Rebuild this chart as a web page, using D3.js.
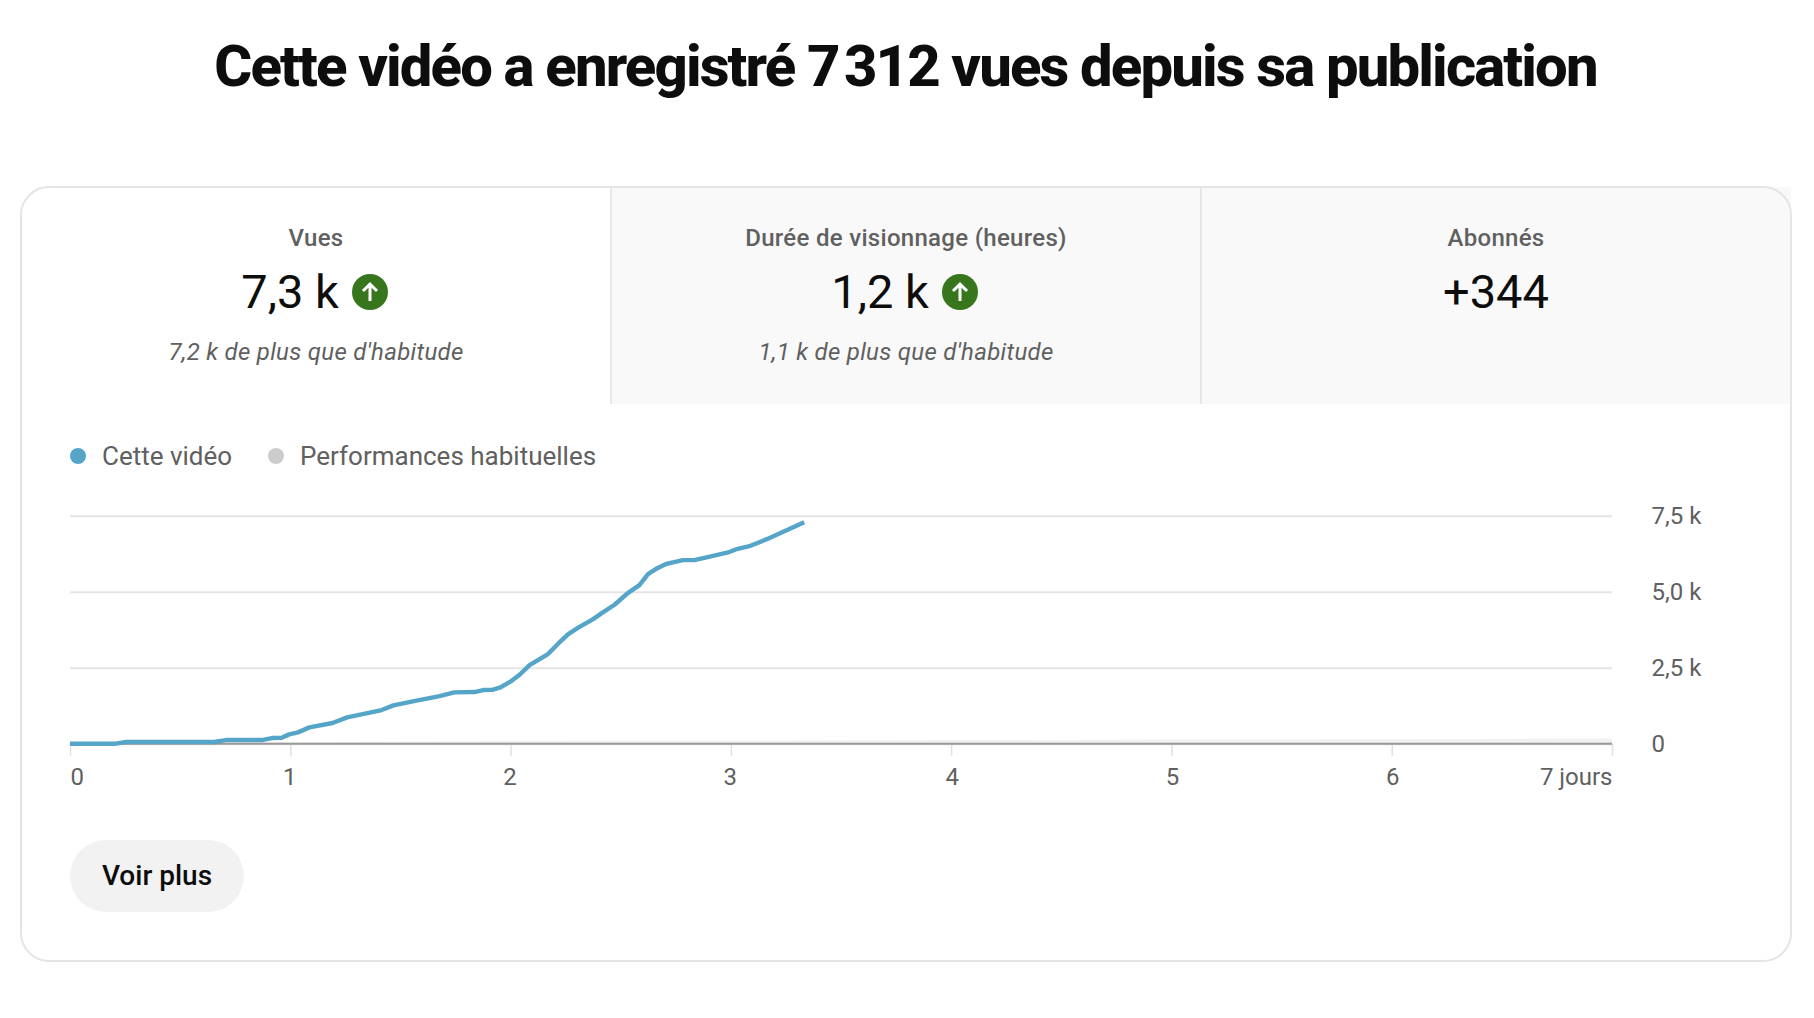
<!DOCTYPE html>
<html>
<head>
<meta charset="utf-8">
<script src="https://cdn.jsdelivr.net/npm/d3@7"></script>
<style>
  html, body { margin: 0; padding: 0; background: #fff; }
  svg { display: block; }
  text { font-family: Roboto, sans-serif; }
</style>
</head>
<body>
<div id="chart"></div>
<script>
// Data
var titleText = "Cette vidéo a enregistré 7\u202F312 vues depuis sa publication";
var tabLabels = ["Vues", "Durée de visionnage (heures)", "Abonnés"];
var tabValues = ["7,3 k", "1,2 k", "+344"];
var tabNotes = ["7,2 k de plus que d'habitude", "1,1 k de plus que d'habitude", ""];
var tabArrows = [true, true, false];
var legendLabels = ["Cette vidéo", "Performances habituelles"];
var dayTicks = [0, 1, 2, 3, 4, 5, 6, 7];
var dayLabels = ["0", "1", "2", "3", "4", "5", "6", "7 jours"];
var viewTicks = [0, 2500, 5000, 7500];
var viewLabels = ["0", "2,5 k", "5,0 k", "7,5 k"];

var videoDays = [0, 0.207, 0.255, 0.654, 0.707, 0.87, 0.917, 0.961, 0.995, 1.035, 1.087, 1.192, 1.258,
  1.415, 1.468, 1.573, 1.678, 1.744, 1.836, 1.876, 1.92, 1.954, 1.999, 2.041, 2.086, 2.17, 2.217,
  2.262, 2.309, 2.375, 2.414, 2.472, 2.532, 2.585, 2.624, 2.664, 2.708, 2.782, 2.834, 2.9, 2.987,
  3.031, 3.089, 3.163, 3.228, 3.333];
var videoViews = [0, 0, 55, 55, 120, 120, 186, 197, 307, 373, 537, 680, 866,
  1107, 1260, 1414, 1567, 1688, 1699, 1765, 1776, 1852, 2039, 2269, 2587, 2948, 3299,
  3606, 3825, 4099, 4296, 4570, 4954, 5217, 5579, 5765, 5918, 6039, 6039, 6149, 6291,
  6412, 6510, 6729, 6938, 7285];
var usualDays = [0, 1, 2, 3, 4, 5, 6, 7];
var usualViews = [20, 60, 85, 105, 120, 135, 150, 170];

var W = 1814, H = 1018;
var cardX = 21, cardY = 187, cardW = 1770, cardH = 774, cardR = 28;
var tabH = 217;
var blue = "#55a5c9", grey = "#606060";

var svg = d3.select("#chart").append("svg").attr("width", W).attr("height", H);

svg.append("text").attr("x", 905.5).attr("y", 86)
  .attr("text-anchor", "middle")
  .attr("font-size", 58).attr("font-weight", 800)
  .attr("letter-spacing", "-1.85px")
  .attr("fill", "#0d0d0d")
  .text(titleText);

// Card and tabs
var tabW = cardW / 3;
var tabs = svg.selectAll("g.tab").data(tabLabels).enter().append("g")
  .attr("class", "tab")
  .attr("transform", function(d, i) { return "translate(" + (cardX + i * tabW) + "," + cardY + ")"; });

tabs.append("rect")
  .attr("width", tabW).attr("height", tabH)
  .attr("fill", function(d, i) { return i == 0 ? "#fff" : "#f9f9f9"; });

tabs.filter(function(d, i) { return i > 0; }).append("line")
  .attr("x1", 0).attr("x2", 0).attr("y1", 0).attr("y2", tabH)
  .attr("stroke", "#e0e0e0").attr("stroke-width", 1.5);

tabs.append("text").attr("x", tabW / 2).attr("y", 59)
  .attr("text-anchor", "middle").attr("font-size", 24).attr("font-weight", 500)
  .attr("letter-spacing", "0.3px").attr("fill", grey)
  .text(function(d) { return d; });

var valueText = tabs.append("text").attr("y", 121)
  .attr("x", tabW / 2)
  .attr("text-anchor", "middle").attr("font-size", 47).attr("fill", "#0d0d0d")
  .text(function(d, i) { return tabValues[i]; });

tabs.append("text").attr("x", tabW / 2).attr("y", 173)
  .attr("text-anchor", "middle").attr("font-size", 24).attr("font-style", "italic")
  .attr("letter-spacing", "0.3px").attr("fill", grey)
  .text(function(d, i) { return tabNotes[i]; });

// up arrow next to the value
tabs.filter(function(d, i) { return tabArrows[i]; }).each(function() {
  var g = d3.select(this);
  var a = g.append("g").attr("transform", "translate(" + (tabW / 2 + 54) + ",105)");
  a.append("circle").attr("r", 18).attr("fill", "#38761d");
  a.append("path").attr("d", "M0,9V-8M-7,-1L0,-8L7,-1")
    .attr("fill", "none").attr("stroke", "#fff").attr("stroke-width", 3);
});
valueText.attr("dx", function(d, i) { return tabArrows[i] ? -26 : 0; });

// outline on top of the tabs
svg.append("rect")
  .attr("x", cardX).attr("y", cardY).attr("width", cardW).attr("height", cardH).attr("rx", cardR)
  .attr("fill", "none").attr("stroke", "#e5e5e5").attr("stroke-width", 2);

// Legend
var legendX = [78, 276];
var legendColors = [blue, "#cccccc"];
var legend = svg.selectAll("g.legend").data(legendLabels).enter().append("g")
  .attr("class", "legend")
  .attr("transform", function(d, i) { return "translate(" + legendX[i] + ",456)"; });
legend.append("circle").attr("r", 8).attr("fill", function(d, i) { return legendColors[i]; });
legend.append("text").attr("x", 24).attr("y", 8.5)
  .attr("font-size", 26).attr("fill", grey)
  .text(function(d) { return d; });

// Scales
var x = d3.scaleLinear().domain([0, 7]).range([70, 1612]);
var y = d3.scaleLinear().domain([0, 7500]).range([743.7, 515.7]);

// Grid and y labels
var yAxis = d3.axisRight(y)
  .tickValues(viewTicks)
  .tickSize(-(x.range()[1] - x.range()[0]))
  .tickPadding(39.5)
  .tickFormat(function(d, i) { return viewLabels[i]; });
var gy = svg.append("g").attr("transform", "translate(" + x.range()[1] + ",0)").call(yAxis);
gy.select(".domain").remove();
gy.selectAll("line").attr("stroke", "#e5e5e5").attr("stroke-width", 2);
gy.selectAll("text").attr("font-size", 24).attr("fill", grey).attr("font-family", "Roboto");

// usual performance band
var band = d3.area()
  .x(function(d, i) { return x(usualDays[i]); })
  .y0(y(0))
  .y1(function(d) { return y(d); });
svg.append("path").datum(usualViews).attr("d", band).attr("fill", "#f1f1f1");

// X axis
var xAxis = d3.axisBottom(x)
  .tickValues(dayTicks)
  .tickSize(12)
  .tickPadding(12.5)
  .tickFormat(function(d, i) { return dayLabels[i]; });
var gx = svg.append("g").attr("transform", "translate(0," + y(0) + ")").call(xAxis);
gx.select(".domain").remove();
gx.selectAll("line").attr("stroke", "#e0e0e0").attr("stroke-width", 1.5);
gx.selectAll("text").attr("font-size", 24).attr("fill", grey).attr("font-family", "Roboto")
  .attr("dx", function(d, i) { return i >= 1 && i <= 3 ? -1 : (i >= 4 && i <= 6 ? 0.5 : 0); })
  .attr("text-anchor", function(d, i) { return i == 0 ? "start" : (i == 7 ? "end" : "middle"); });
svg.append("line").attr("x1", x(0)).attr("x2", x(7)).attr("y1", y(0)).attr("y2", y(0))
  .attr("stroke", "#999").attr("stroke-width", 2);

// Views line
var line = d3.line()
  .x(function(d, i) { return x(videoDays[i]); })
  .y(function(d) { return y(d); });
svg.append("path").datum(videoViews).attr("d", line)
  .attr("fill", "none").attr("stroke", blue).attr("stroke-width", 4.4).attr("stroke-linejoin", "round");

// Button
svg.append("rect").attr("x", 70).attr("y", 840).attr("width", 174).attr("height", 72).attr("rx", 36)
  .attr("fill", "#f2f2f2");
svg.append("text").attr("x", 157).attr("y", 885)
  .attr("text-anchor", "middle").attr("font-size", 28).attr("font-weight", 500).attr("fill", "#0d0d0d")
  .text("Voir plus");
</script>
</body>
</html>
